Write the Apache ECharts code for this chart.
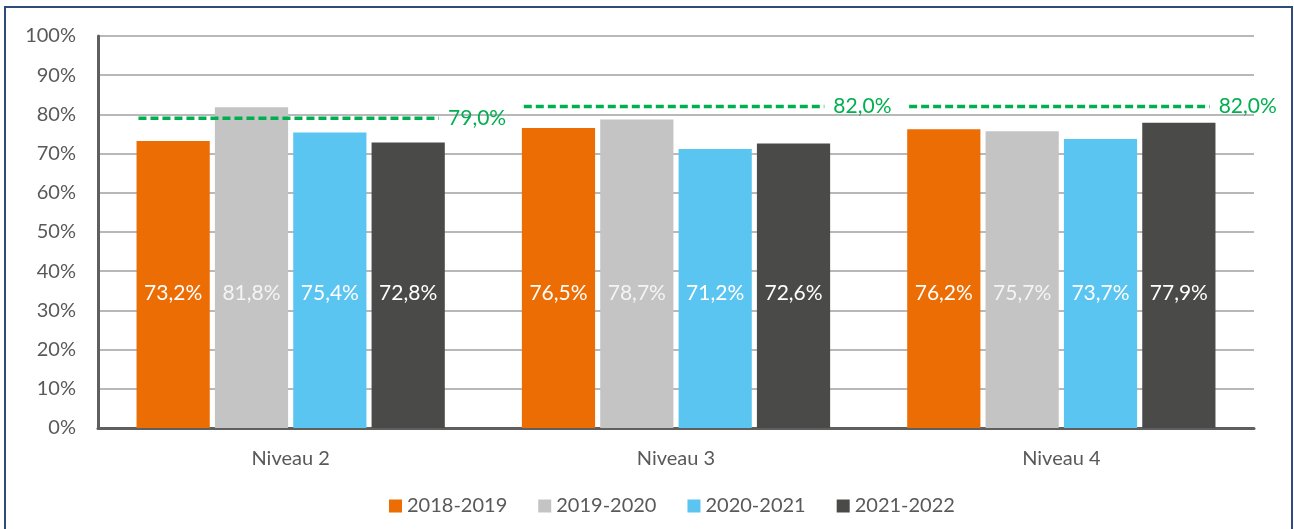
<!DOCTYPE html>
<html>
<head>
<meta charset="utf-8">
<script src="https://cdn.jsdelivr.net/npm/echarts@6/dist/echarts.min.js"></script>
<style>
  html, body { margin: 0; padding: 0; background: #fff; }
  #main { width: 1294px; height: 529px; }
</style>
</head>
<body>
<div id="main"></div>
<script>
const categories = ["Niveau 2", "Niveau 3", "Niveau 4"];
const seriesNames = ["2018-2019", "2019-2020", "2020-2021", "2021-2022"];
const values2018 = [73.2, 76.5, 76.2];
const values2019 = [81.8, 78.7, 75.7];
const values2020 = [75.4, 71.2, 73.7];
const values2021 = [72.8, 72.6, 77.9];
const targets = [79.0, 82.0, 82.0];
const yTicks = [0, 10, 20, 30, 40, 50, 60, 70, 80, 90, 100];

const colors = ["#EC6D04", "#C4C4C4", "#5BC5F2", "#4A4A48"];
const font = "Lato, 'Open Sans', sans-serif";
const fmt = v => v.toFixed(1).replace(".", ",") + "%";

const chart = echarts.init(document.getElementById("main"));

const barSeries = [values2018, values2019, values2020, values2021].map((vals, i) => ({
  name: seriesNames[i],
  type: "bar",
  data: vals,
  barGap: "7%",
  barCategoryGap: "20%",
  itemStyle: { color: colors[i] },
  label: {
    show: true,
    position: "insideBottom",
    distance: 124,
    color: i === 1 ? "#f4f4f4" : "#ffffff",
    fontFamily: font,
    fontSize: 21,
    formatter: p => fmt(p.value)
  }
}));

chart.setOption({
  animation: false,
  backgroundColor: "#fff",
  graphic: [{
    type: "rect",
    shape: { x: 5, y: 7, width: 1287, height: 560 },
    style: { fill: "none", stroke: "#2f4b7c", lineWidth: 2 },
    silent: true
  }],
  grid: { left: 98, right: 40, top: 36, bottom: 101 },
  legend: {
    data: seriesNames,
    bottom: 8,
    left: 384,
    icon: "rect",
    itemWidth: 13,
    itemHeight: 13,
    itemGap: 31,
    textStyle: { color: "#595959", fontFamily: font, fontSize: 20 }
  },
  xAxis: {
    type: "category",
    data: categories,
    axisLine: { lineStyle: { color: "#5f5f5f", width: 3 } },
    axisTick: { show: false },
    axisLabel: { color: "#595959", fontFamily: font, fontSize: 20, margin: 21 }
  },
  yAxis: {
    type: "value",
    min: yTicks[0],
    max: yTicks[yTicks.length - 1],
    interval: 10,
    axisLine: { show: true, lineStyle: { color: "#5f5f5f", width: 3 } },
    axisTick: { show: false },
    splitLine: { lineStyle: { color: "#a0a0a0", width: 1.5 } },
    axisLabel: {
      color: "#595959",
      fontFamily: font,
      fontSize: 20,
      margin: 22,
      formatter: v => v + "%"
    }
  },
  series: barSeries.concat([{
    name: "Objectif",
    type: "custom",
    data: targets.map((v, i) => [i, v]),
    encode: { x: 0, y: 1 },
    z: 5,
    renderItem: (params, api) => {
      const c = api.coord([api.value(0), api.value(1)]);
      const w = api.size([1, 0])[0];
      const x1 = c[0] - w * 0.395;
      const x2 = c[0] + w * 0.385;
      return {
        type: "group",
        children: [{
          type: "line",
          shape: { x1: x1, y1: c[1], x2: x2, y2: c[1] },
          style: { stroke: "#00B050", lineWidth: 3.5, lineDash: [8, 4] }
        }, {
          type: "text",
          x: x2 + 9,
          y: c[1],
          style: {
            text: fmt(api.value(1)),
            fill: "#00B050",
            fontFamily: font,
            fontSize: 21,
            verticalAlign: "middle",
            align: "left"
          }
        }]
      };
    }
  }])
});
</script>
</body>
</html>
